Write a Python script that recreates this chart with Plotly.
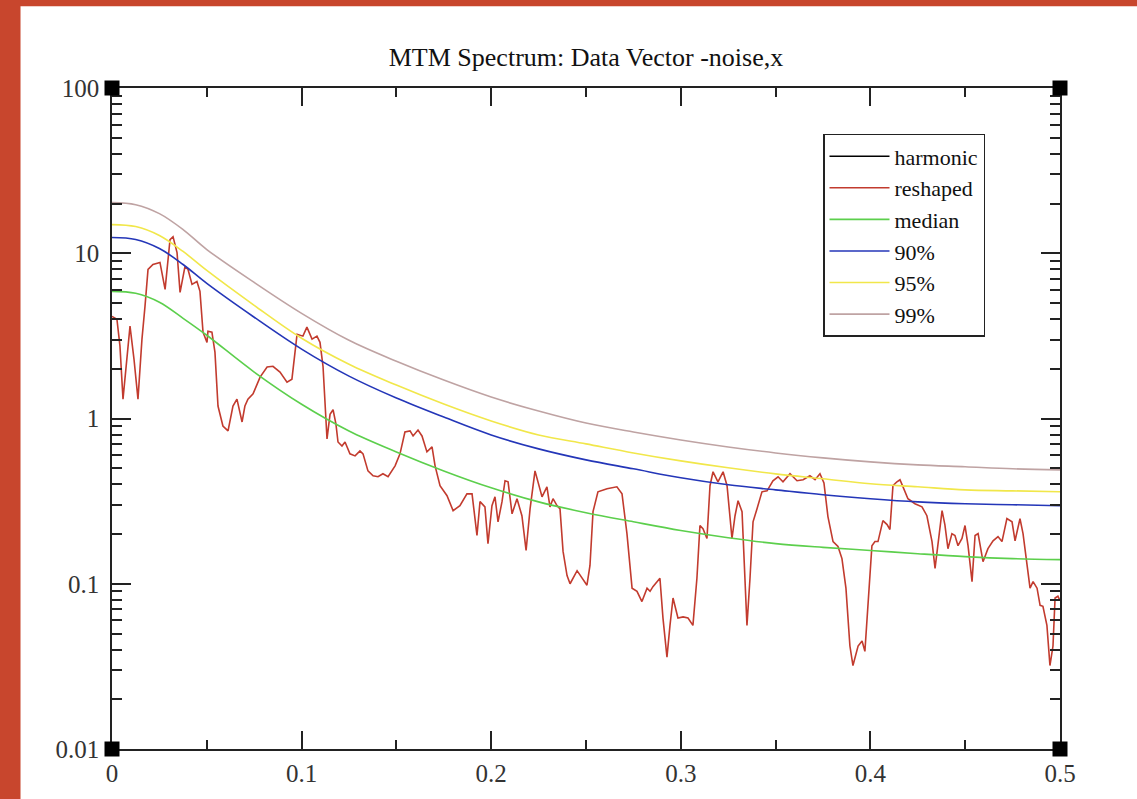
import plotly.graph_objects as go

# ---------------- data ----------------
freq_grid = [0.0, 0.0125, 0.025, 0.0375, 0.05, 0.075, 0.1, 0.125, 0.15, 0.175, 0.2,
             0.225, 0.25, 0.275, 0.3, 0.325, 0.35, 0.375, 0.4, 0.425, 0.45, 0.475, 0.5]

median = [5.88, 5.72, 5.05, 4.04, 3.19, 1.91, 1.22, 0.841, 0.628, 0.482, 0.381,
          0.313, 0.269, 0.237, 0.210, 0.190, 0.175, 0.166, 0.159, 0.152, 0.146, 0.142, 0.140]
conf90 = [12.45, 12.11, 10.68, 8.55, 6.57, 4.10, 2.63, 1.805, 1.33, 1.02, 0.795,
          0.655, 0.562, 0.496, 0.4375, 0.397, 0.370, 0.3455, 0.327, 0.313, 0.305, 0.3007, 0.2965]
conf95 = [14.91, 14.50, 12.80, 10.25, 7.87, 4.84, 3.06, 2.13, 1.593, 1.223, 0.966,
          0.795, 0.702, 0.619, 0.554, 0.503, 0.4625, 0.4315, 0.4026, 0.386, 0.370, 0.365, 0.360]
conf99 = [20.24, 19.68, 17.37, 13.91, 10.53, 6.66, 4.33, 2.975, 2.22, 1.707, 1.348,
          1.110, 0.939, 0.829, 0.742, 0.673, 0.619, 0.578, 0.5465, 0.524, 0.510, 0.496, 0.489]

harmonic_x = [None]
harmonic_y = [None]

reshaped_x = [
    0.0, 0.0026, 0.0042, 0.0058, 0.0095, 0.0116, 0.0137, 0.0158, 0.0174, 0.0190,
    0.0216, 0.0253, 0.0280, 0.0306, 0.0322, 0.0343, 0.0359, 0.0385, 0.0401, 0.0422,
    0.0448, 0.0464, 0.0480, 0.0501, 0.0506, 0.0527, 0.0543, 0.0559, 0.0585, 0.0612,
    0.0638, 0.0659, 0.0686, 0.0701, 0.0717, 0.0744, 0.0781, 0.0818, 0.0849, 0.0886,
    0.0923, 0.0949, 0.0976, 0.1007, 0.1028, 0.1055, 0.1081, 0.1097, 0.1113, 0.1134,
    0.1150, 0.1166, 0.1181, 0.1192, 0.1213, 0.1229, 0.1255, 0.1282, 0.1308, 0.1324,
    0.1350, 0.1377, 0.1403, 0.1429, 0.1456, 0.1493, 0.1519, 0.1545, 0.1572, 0.1588,
    0.1614, 0.1635, 0.1661, 0.1688, 0.1704, 0.1730, 0.1767, 0.1799, 0.1835, 0.1872,
    0.1899, 0.1925, 0.1941, 0.1967, 0.1983, 0.2004, 0.2020, 0.2036, 0.2057, 0.2073,
    0.2089, 0.2110, 0.2136, 0.2162, 0.2184, 0.2205, 0.2231, 0.2247, 0.2268, 0.2294,
    0.2310, 0.2326, 0.2347, 0.2363, 0.2379, 0.2400, 0.2416, 0.2453, 0.2479, 0.2505,
    0.2521, 0.2537, 0.2563, 0.2611, 0.2663, 0.2690, 0.2716, 0.2743, 0.2769, 0.2795,
    0.2822, 0.2838, 0.2853, 0.2874, 0.2890, 0.2906, 0.2927, 0.2943, 0.2959, 0.2985,
    0.3012, 0.3038, 0.3064, 0.3085, 0.3101, 0.3117, 0.3138, 0.3154, 0.3170, 0.3196,
    0.3223, 0.3244, 0.3270, 0.3286, 0.3302, 0.3323, 0.3339, 0.3349, 0.3365, 0.3381,
    0.3402, 0.3428, 0.3455, 0.3486, 0.3513, 0.3539, 0.3576, 0.3613, 0.3645, 0.3681,
    0.3708, 0.3734, 0.3755, 0.3776, 0.3803, 0.3829, 0.3850, 0.3871, 0.3892, 0.3908,
    0.3935, 0.3956, 0.3971, 0.3987, 0.4008, 0.4024, 0.4040, 0.4066, 0.4088, 0.4103,
    0.4119, 0.4140, 0.4156, 0.4172, 0.4198, 0.4235, 0.4272, 0.4298, 0.4325, 0.4341,
    0.4357, 0.4378, 0.4393, 0.4409, 0.4430, 0.4446, 0.4462, 0.4483, 0.4499, 0.4515,
    0.4536, 0.4552, 0.4568, 0.4594, 0.4620, 0.4647, 0.4673, 0.4694, 0.4720, 0.4747,
    0.4763, 0.4789, 0.4805, 0.4826, 0.4842, 0.4858, 0.4879, 0.4895, 0.4910, 0.4931,
    0.4947, 0.4963, 0.4974, 0.4989, 0.5000,
]
reshaped_y = [
    4.15, 3.99, 2.74, 1.31, 3.62, 2.29, 1.31, 3.02, 4.77, 7.98,
    8.55, 8.80, 6.04, 12.1, 12.6, 10.1, 5.80, 8.32, 7.98, 6.48,
    6.75, 5.88, 3.33, 2.89, 3.37, 3.33, 2.52, 1.19, 0.901, 0.841,
    1.19, 1.31, 0.953, 1.19, 1.31, 1.41, 1.78, 2.05, 2.07, 1.91,
    1.66, 1.73, 3.23, 3.15, 3.57, 3.02, 3.15, 2.89, 2.07, 0.752,
    1.06, 1.13, 0.927, 0.721, 0.682, 0.721, 0.611, 0.594, 0.637, 0.611,
    0.482, 0.450, 0.444, 0.463, 0.444, 0.517, 0.611, 0.829, 0.841, 0.784,
    0.852, 0.784, 0.628, 0.673, 0.517, 0.392, 0.341, 0.277, 0.297, 0.350,
    0.350, 0.196, 0.314, 0.292, 0.175, 0.297, 0.336, 0.237, 0.314, 0.420,
    0.414, 0.265, 0.327, 0.258, 0.159, 0.284, 0.482, 0.414, 0.336, 0.386,
    0.292, 0.327, 0.297, 0.284, 0.157, 0.112, 0.100, 0.120, 0.108, 0.098,
    0.129, 0.273, 0.360, 0.376, 0.386, 0.350, 0.201, 0.094, 0.090, 0.078,
    0.094, 0.090, 0.096, 0.103, 0.108, 0.062, 0.036, 0.056, 0.082, 0.062,
    0.063, 0.062, 0.056, 0.108, 0.225, 0.215, 0.188, 0.392, 0.476, 0.414,
    0.476, 0.392, 0.188, 0.258, 0.318, 0.273, 0.098, 0.056, 0.108, 0.237,
    0.284, 0.360, 0.365, 0.420, 0.444, 0.414, 0.463, 0.420, 0.426, 0.450,
    0.426, 0.463, 0.408, 0.255, 0.180, 0.168, 0.142, 0.094, 0.042, 0.032,
    0.042, 0.045, 0.039, 0.074, 0.170, 0.180, 0.180, 0.241, 0.228, 0.213,
    0.392, 0.414, 0.426, 0.386, 0.327, 0.305, 0.292, 0.258, 0.180, 0.124,
    0.170, 0.277, 0.227, 0.163, 0.201, 0.196, 0.170, 0.188, 0.225, 0.170,
    0.103, 0.196, 0.201, 0.136, 0.163, 0.182, 0.193, 0.180, 0.248, 0.237,
    0.182, 0.248, 0.201, 0.136, 0.094, 0.103, 0.094, 0.074, 0.073, 0.056,
    0.032, 0.042, 0.082, 0.084, 0.079,
]

x_tick_vals = [0, 0.1, 0.2, 0.3, 0.4, 0.5]
x_tick_text = ["0", "0.1", "0.2", "0.3", "0.4", "0.5"]
y_tick_vals = [0.01, 0.1, 1, 10, 100]
y_tick_text = ["0.01", "0.1", "1", "10", "100"]
y_minor_vals = [m * d for d in (0.01, 0.1, 1, 10) for m in range(2, 10)]

title_text = "MTM Spectrum: Data Vector -noise,x"

# ---------------- figure ----------------
FONT = "Liberation Serif, Times New Roman, serif"
AXC = "#222222"

fig = go.Figure()
fig.add_trace(go.Scatter(x=harmonic_x, y=harmonic_y, mode="lines", name="harmonic",
                         line=dict(color="#000000", width=1.5), showlegend=True))
fig.add_trace(go.Scatter(x=reshaped_x, y=reshaped_y, mode="lines", name="reshaped",
                         line=dict(color="#c23b2e", width=1.6)))
fig.add_trace(go.Scatter(x=freq_grid, y=median, mode="lines", name="median",
                         line=dict(color="#5ccf4c", width=1.6, shape="spline", smoothing=1.0)))
fig.add_trace(go.Scatter(x=freq_grid, y=conf90, mode="lines", name="90%",
                         line=dict(color="#2436b8", width=1.6, shape="spline", smoothing=1.0)))
fig.add_trace(go.Scatter(x=freq_grid, y=conf95, mode="lines", name="95%",
                         line=dict(color="#f1e74a", width=1.6, shape="spline", smoothing=1.0)))
fig.add_trace(go.Scatter(x=freq_grid, y=conf99, mode="lines", name="99%",
                         line=dict(color="#bfa3a3", width=1.6, shape="spline", smoothing=1.0)))

shapes = [
    # white page panel over the red backdrop
    dict(type="rect", xref="paper", yref="paper", x0=-0.0965, x1=1.09, y0=-0.08, y1=1.1237,
         fillcolor="white", line=dict(width=0), layer="below"),
]
for cx in (0, 1):
    for cy in (0, 1):
        shapes.append(dict(type="rect", xref="paper", yref="paper",
                           xsizemode="pixel", ysizemode="pixel",
                           xanchor=cx, yanchor=cy, x0=-7.5, x1=7.5, y0=-7.5, y1=7.5,
                           fillcolor="black", line=dict(width=0), layer="above"))

fig.update_layout(
    width=1137, height=799,
    margin=dict(l=112, r=77, t=88, b=45),
    paper_bgcolor="#c8462d",
    plot_bgcolor="white",
    font=dict(family=FONT, color="#222222"),
    title=dict(text=title_text, x=0.5, xref="paper", xanchor="center",
               y=1 - 57 / 799, yref="container", yanchor="middle",
               font=dict(family=FONT, size=26, color="#111111")),
    showlegend=True,
    legend=dict(x=0.75, y=0.9306, xanchor="left", yanchor="top",
                bgcolor="white", bordercolor=AXC, borderwidth=1.5,
                font=dict(family=FONT, size=22, color="#111111"),
                itemwidth=60, tracegroupgap=0),
    shapes=shapes,
)

fig.update_xaxes(
    range=[0, 0.5], showgrid=False, zeroline=False,
    showline=True, linecolor=AXC, linewidth=1.5, mirror="ticks",
    ticks="inside", ticklen=18, tickwidth=1.5, tickcolor=AXC,
    tickmode="array", tickvals=x_tick_vals, ticktext=x_tick_text,
    tickfont=dict(family=FONT, size=25, color="#333333"),
    ticklabelstandoff=1,
    minor=dict(ticks="inside", ticklen=9, tickwidth=1.5, tickcolor=AXC, dtick=0.05,
               showgrid=False),
)
fig.update_yaxes(
    type="log", range=[-2, 2], showgrid=False, zeroline=False,
    showline=True, linecolor=AXC, linewidth=1.5, mirror="ticks",
    ticks="inside", ticklen=19, tickwidth=1.5, tickcolor=AXC,
    tickmode="array", tickvals=y_tick_vals, ticktext=y_tick_text,
    tickfont=dict(family=FONT, size=25, color="#333333"),
    ticklabelstandoff=6,
    minor=dict(ticks="inside", ticklen=10, tickwidth=1.5, tickcolor=AXC,
               tickmode="array", tickvals=y_minor_vals, showgrid=False),
)

fig.write_html("out.html", config={"displayModeBar": False},
               post_script="document.body.style.margin='0px';document.body.style.overflow='hidden';")
